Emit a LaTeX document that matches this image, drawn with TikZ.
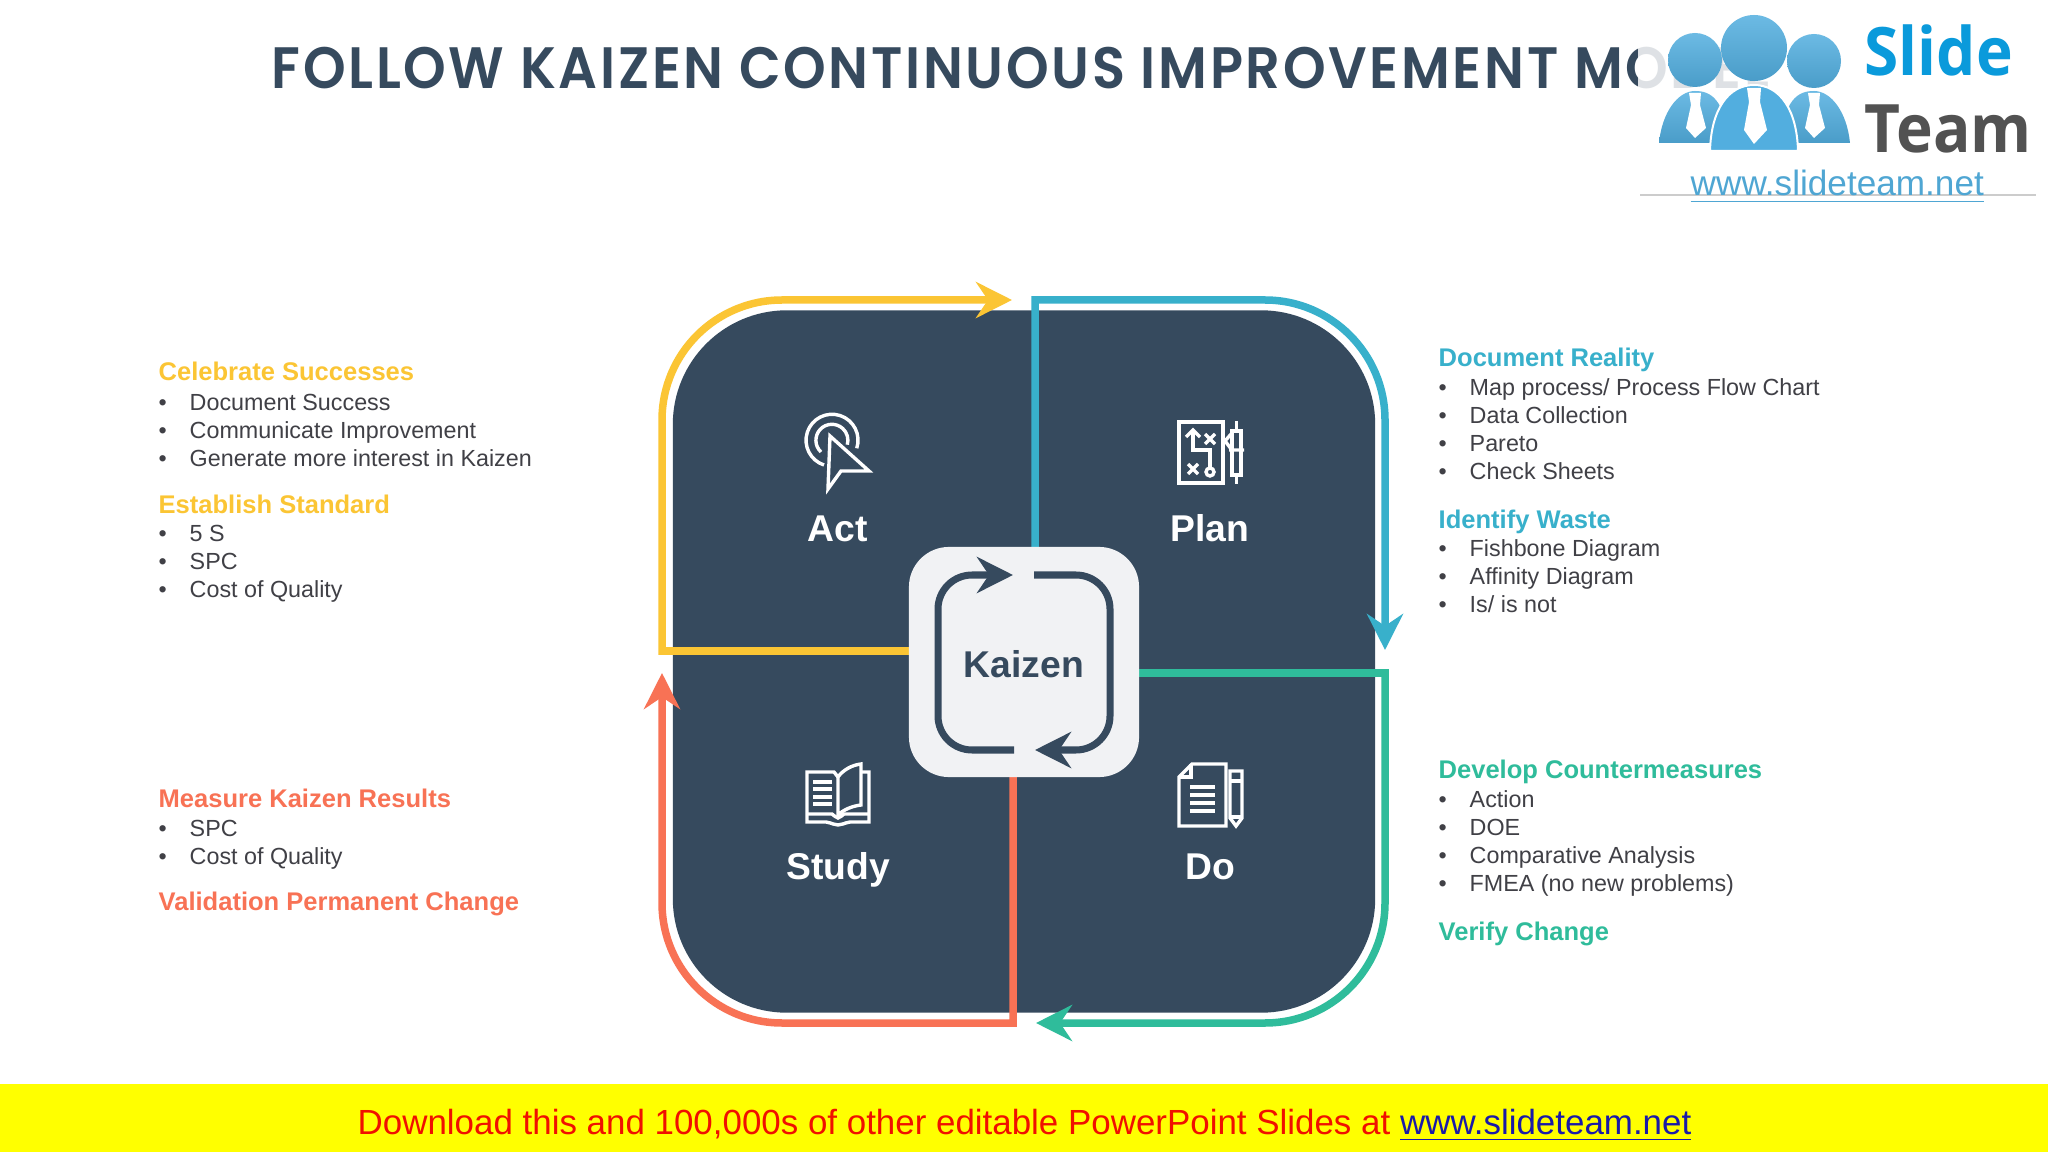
\documentclass[tikz,border=0pt]{standalone}
\usepackage{fontspec}
\setmainfont{Liberation Sans}
\newfontfamily\titlefont[FakeStretch=0.93,LetterSpace=4.6]{Poppins SemiBold}
\newfontfamily\logofont[FakeStretch=0.93]{Open Sans}
\usetikzlibrary{arrows.meta}
\definecolor{navy}{HTML}{364A5E}
\definecolor{paleBox}{HTML}{F1F2F4}
\definecolor{yellowLine}{HTML}{FBC534}
\definecolor{blueLine}{HTML}{38B0CB}
\definecolor{greenLine}{HTML}{2FBC9B}
\definecolor{redLine}{HTML}{F87255}
\definecolor{itemGray}{HTML}{404046}
\definecolor{logoBlue}{HTML}{52AEDF}
\definecolor{linkBlue}{HTML}{4FA6D3}
\definecolor{logoSky}{HTML}{0A9ADB}
\definecolor{bannerYellow}{HTML}{FFFF00}
\definecolor{bannerRed}{HTML}{F01000}
\definecolor{bannerBlue}{HTML}{1A1AA8}
\newcommand{\bul}{\makebox[0.31cm][l]{\textbullet}}
\tikzset{
	loopline/.style={line width=0.075cm, -{Stealth[length=0.36cm,width=0.36cm,inset=0.12cm]}},
	innerline/.style={navy, line width=0.07cm, rounded corners=0.34cm, -{Stealth[length=0.36cm,width=0.36cm,inset=0.12cm]}},
	item/.style={anchor=base west, inner sep=0, text=itemGray, font=\fontsize{6.63}{8}\selectfont},
	head/.style={anchor=base west, inner sep=0, font=\fontsize{7.26}{8}\selectfont\bfseries},
	quarter/.style={anchor=base, inner sep=0, font=\fontsize{10.6}{12}\selectfont\bfseries},
	icon/.style={draw=white, line width=0.034cm},
	tie/.style={fill=white, draw=none},
	person/.style={top color=logoBlue!85!white, bottom color=logoBlue!90!black, draw=none}
}

\begin{document}
\begin{tikzpicture}[x=0.01cm, y=-0.01cm]
	\useasboundingbox (0,0) rectangle (2048,1152);
	\fill[white] (0,0) rectangle (2048,1152);
	% title, partly under the logo
	\node[anchor=base west, inner sep=0, text=navy, font=\fontsize{16.6}{20}\titlefont] (title) at (271,89) {FOLLOW KAIZEN CONTINUOUS IMPROVEMENT MODEL};
	% logo
	\fill[white, opacity=0.84] (1638,0) rectangle (2037,195);
	\draw[gray!40, line width=0.012cm] (1640,195) -- (2036,195);
	\shade[person] (1659,143) .. controls (1662,112) and (1678,91) .. (1695,91) .. controls (1712,91) and (1724,100) .. (1730,143) -- cycle;
	\shade[person] (1850,143) .. controls (1847,112) and (1831,91) .. (1814,91) .. controls (1797,91) and (1785,100) .. (1779,143) -- cycle;
	\shade[person] (1695,60) circle (27);
	\shade[person] (1814,61) circle (27);
	\fill[tie] (1689,93) -- (1701,93) -- (1700,105) -- (1706,128) -- (1695,138) -- (1686,128) -- (1691,105) -- cycle;
	\fill[tie] (1808,93) -- (1820,93) -- (1819,105) -- (1825,128) -- (1814,138) -- (1805,128) -- (1810,105) -- cycle;
	\draw[white, line width=0.02cm, fill=logoBlue] (1710,151) .. controls (1711,110) and (1728,85) .. (1754,85) .. controls (1780,85) and (1797,110) .. (1798,151) -- cycle;
	\shade[person] (1754,48) circle (33);
	\fill[tie] (1747,88) -- (1761,88) -- (1760,102) -- (1767,130) -- (1754,144) -- (1744,130) -- (1749,102) -- cycle;
	\node[anchor=base west, inner sep=0, text=logoSky, font=\fontsize{19}{20}\logofont\bfseries] (logoSlide) at (1864,76) {Slide};
	\node[anchor=base west, inner sep=0, text=black!68, font=\fontsize{19}{20}\logofont\bfseries] (logoTeam) at (1864,153) {Team};
	\node[anchor=base west, inner sep=0, text=linkBlue, font=\fontsize{10}{12}\selectfont] (logoUrl) at (1690,196) {\underline{www.slideteam.net}};
	% centre block
	\node[fill=navy, draw=none, minimum size=7.02cm, rounded corners=1.14cm, inner sep=0] (panel) at (1024,661.5) {};
	\coordinate (blueFoot) at (1035,547);
	\coordinate (yellowFoot) at (909,651);
	\coordinate (greenFoot) at (1139,673);
	\coordinate (redFoot) at (1013,777);
	\coordinate (yellowTip) at (1012,300);
	\coordinate (blueTip) at (1385,650);
	\coordinate (greenTip) at (1036,1023);
	\coordinate (redTip) at (662,673);
	\draw[loopline, yellowLine] (yellowFoot) -- (662,651) [rounded corners=1.2cm] -- (662,300) -- (yellowTip);
	\draw[loopline, blueLine] (blueFoot) -- (1035,300) [rounded corners=1.2cm] -- (1385,300) -- (blueTip);
	\draw[loopline, greenLine] (greenFoot) -- (1385,673) [rounded corners=1.2cm] -- (1385,1023) -- (greenTip);
	\draw[loopline, redLine] (redFoot) -- (1013,1023) [rounded corners=1.2cm] -- (662,1023) -- (redTip);
	\node[fill=paleBox, minimum size=2.30cm, rounded corners=0.40cm, inner sep=0] (kaizen) at (1024,662) {};
	\node[quarter, text=navy] (kaizenText) at (1024,677) {Kaizen};
	\coordinate (leftStart) at (1014,750);
	\coordinate (leftTip) at (1013,575);
	\coordinate (rightStart) at (1034,575);
	\coordinate (rightTip) at (1035,750);
	\draw[innerline] (leftStart) -- (938,750) -- (938,575) -- (leftTip);
	\draw[innerline] (rightStart) -- (1110,575) -- (1110,750) -- (rightTip);
	\node[quarter, text=white] (act) at (838,542) {Act};
	\node[quarter, text=white] (plan) at (1210,542) {Plan};
	\node[quarter, text=white] (study) at (838,879) {Study};
	\node[quarter, text=white] (do) at (1210,879) {Do};
	% act icon
	\draw[icon] (824,465) arc[start angle=108, end angle=378, radius=26];
	\draw[icon] (821,452) arc[start angle=133, end angle=376, radius=16];
	\draw[icon, fill=navy, line join=miter] (830,436) -- (869,471) -- (841,471) -- (828,489) -- cycle;
	% plan icon
	\draw[icon] (1179,422) rectangle (1223,483);
	\draw[icon] (1193,430) -- (1193,450) -- (1210,450) -- (1210,467);
	\draw[icon] (1186,437) -- (1193,430) -- (1200,437);
	\draw[icon] (1210,472) circle (4);
	\draw[icon] (1205,434) -- (1215,444) (1215,434) -- (1205,444);
	\draw[icon] (1188,464) -- (1198,474) (1198,464) -- (1188,474);
	\draw[icon] (1232,431) rectangle (1241,475);
	\draw[icon] (1236.5,421) -- (1236.5,431) (1236.5,475) -- (1236.5,484);
	\draw[icon] (1232,433) -- (1225,441) -- (1232,450) (1229,450) -- (1244,450);
	% study icon
	\draw[icon] (838,777) -- (834,772) -- (807,772) -- (807,822) -- (826,822) .. controls (832,823) and (834,825) .. (838,825) .. controls (842,825) and (844,823) .. (850,822) -- (869,822) -- (869,772) -- (861,772);
	\draw[icon] (838,777) .. controls (843,770) and (852,765) .. (861,764) -- (861,805) .. controls (852,806) and (843,810) .. (838,815) -- cycle;
	\draw[icon] (807,814) -- (832,814) .. controls (834,815) and (836,818) .. (838,818) .. controls (840,818) and (842,815) .. (844,814) -- (869,814);
	\draw[icon] (813,782) -- (832,782) (813,789) -- (832,789) (813,797) -- (832,797) (813,804) -- (832,804);
	% do icon
	\draw[icon] (1192,764) -- (1226,764) -- (1226,826) -- (1179,826) -- (1179,777) -- cycle;
	\draw[icon] (1179,777) -- (1191,777) -- (1191,764);
	\draw[icon] (1190,787) -- (1215,787) (1190,795) -- (1215,795) (1190,803) -- (1215,803) (1190,811) -- (1215,811);
	\draw[icon] (1230,771) -- (1242,771) -- (1242,818) -- (1236,826) -- (1230,818) -- cycle;
	\draw[icon] (1230,781) -- (1242,781) (1230,817) -- (1242,817);
	% left texts
	\node[head, text=yellowLine] (celebrate) at (158,381) {Celebrate Successes};
	\node[item] (celebrateA) at (158,411) {\bul Document Success};
	\node[item] (celebrateB) at (158,439) {\bul Communicate Improvement};
	\node[item] (celebrateC) at (158,467) {\bul Generate more interest in Kaizen};
	\node[head, text=yellowLine] (establish) at (158,514) {Establish Standard};
	\node[item] (establishA) at (158,542) {\bul 5 S};
	\node[item] (establishB) at (158,570) {\bul SPC};
	\node[item] (establishC) at (158,597) {\bul Cost of Quality};
	\node[head, text=redLine] (measure) at (158,807) {Measure Kaizen Results};
	\node[item] (measureA) at (158,836) {\bul SPC};
	\node[item] (measureB) at (158,864) {\bul Cost of Quality};
	\node[head, text=redLine] (validate) at (158,910) {Validation Permanent Change};
	% right texts
	\node[head, text=blueLine] (reality) at (1438,367) {Document Reality};
	\node[item] (realityA) at (1438,396) {\bul Map process/ Process Flow Chart};
	\node[item] (realityB) at (1438,424) {\bul Data Collection};
	\node[item] (realityC) at (1438,452) {\bul Pareto};
	\node[item] (realityD) at (1438,480) {\bul Check Sheets};
	\node[head, text=blueLine] (waste) at (1438,528) {Identify Waste};
	\node[item] (wasteA) at (1438,557) {\bul Fishbone Diagram};
	\node[item] (wasteB) at (1438,584) {\bul Affinity Diagram};
	\node[item] (wasteC) at (1438,613) {\bul Is/ is not};
	\node[head, text=greenLine] (counter) at (1438,778) {Develop Countermeasures};
	\node[item] (counterA) at (1438,807) {\bul Action};
	\node[item] (counterB) at (1438,835) {\bul DOE};
	\node[item] (counterC) at (1438,863) {\bul Comparative Analysis};
	\node[item] (counterD) at (1438,891) {\bul FMEA (no new problems)};
	\node[head, text=greenLine] (verify) at (1438,940) {Verify Change};
	% banner
	\fill[bannerYellow] (0,1084) rectangle (2048,1152);
	\node[anchor=base west, inner sep=0, text=bannerRed, font=\fontsize{9.93}{12}\selectfont] (banner) at (357,1134) {Download this and 100,000s of other editable PowerPoint Slides at \textcolor{bannerBlue}{\underline{www.slideteam.net}}};
\end{tikzpicture}
\end{document}
